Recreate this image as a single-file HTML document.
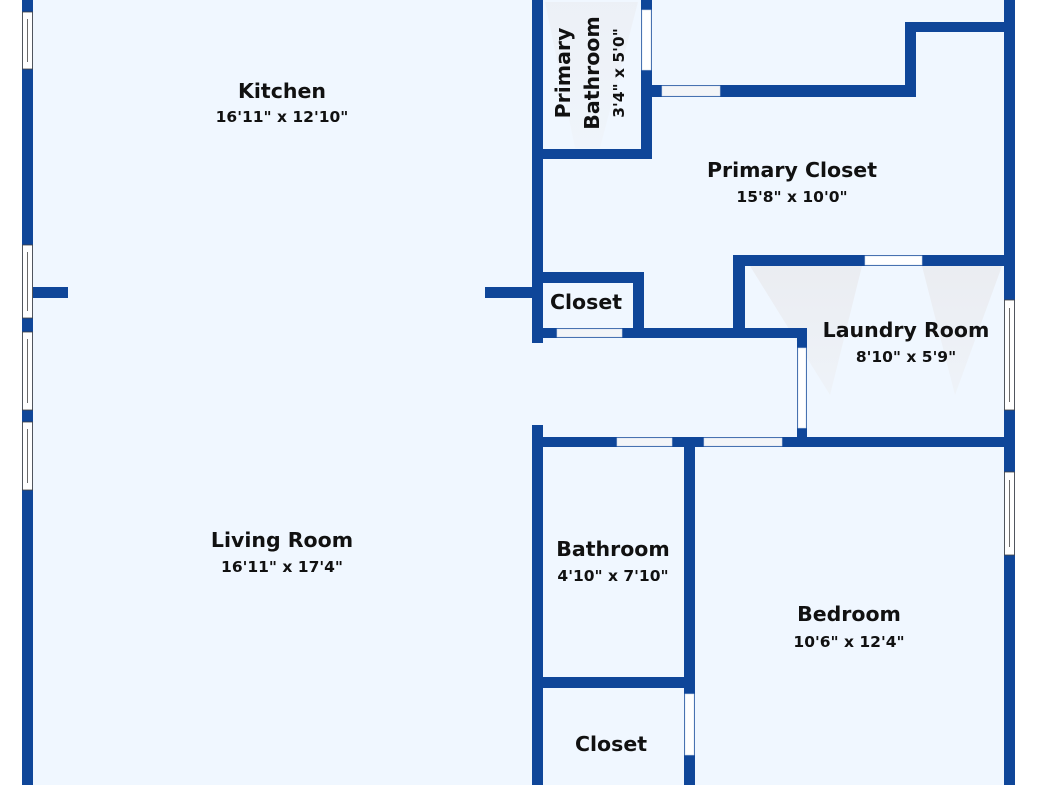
<!DOCTYPE html>
<html><head><style>
html,body{margin:0;padding:0;background:#fff;}
svg{display:block}
text{font-family:"DejaVu Sans","Liberation Sans",sans-serif;font-weight:bold;fill:#111;text-anchor:middle}
.n{font-size:20.5px}
.d{font-size:15.5px}
</style></head><body>
<svg width="1037" height="785" viewBox="0 0 1037 785" xmlns="http://www.w3.org/2000/svg">
<defs>
<linearGradient id="g" x1="0" y1="0" x2="0" y2="1"><stop offset="0" stop-color="#e9eaee"/><stop offset="1" stop-color="#eef2f7"/></linearGradient>
</defs>
<rect x="22" y="0" width="993" height="785" fill="#f0f7ff"/>
<polygon points="750,266 862,266 830,395" fill="url(#g)" opacity="0.8"/>
<polygon points="922,266 1002,266 955,395" fill="url(#g)" opacity="0.8"/>
<polygon points="545,2 638,2 600,148 575,148" fill="url(#g)" opacity="0.5"/>
<g fill="#0f4699">
<rect x="22" y="0" width="11" height="785"/>
<rect x="22" y="287" width="46" height="11"/>
<rect x="485" y="287" width="50" height="11"/>
<rect x="532" y="0" width="11" height="343"/>
<rect x="641" y="0" width="11" height="159"/>
<rect x="532" y="149" width="120" height="10"/>
<rect x="652" y="85" width="264" height="12"/>
<rect x="905" y="22" width="11" height="75"/>
<rect x="905" y="22" width="105" height="10"/>
<rect x="1004" y="0" width="11" height="785"/>
<rect x="733" y="255" width="272" height="11"/>
<rect x="733" y="255" width="12" height="82"/>
<rect x="532" y="272" width="112" height="11"/>
<rect x="633" y="272" width="11" height="66"/>
<rect x="532" y="328" width="275" height="10"/>
<rect x="797" y="328" width="10" height="119"/>
<rect x="532" y="437" width="483" height="10"/>
<rect x="532" y="425" width="11" height="360"/>
<rect x="684" y="442" width="11" height="343"/>
<rect x="532" y="677" width="163" height="11"/>
</g>
<g fill="#f3f5f8" stroke="#cdd9ea" stroke-width="0.6">
<rect x="642" y="10" width="9" height="60" fill="#fff"/>
<rect x="662" y="86" width="58" height="10"/>
<rect x="865" y="256" width="57" height="9" fill="#fff"/>
<rect x="557" y="329" width="65" height="8"/>
<rect x="798" y="348" width="8" height="80" fill="#fff"/>
<rect x="617" y="438" width="55" height="8"/>
<rect x="704" y="438" width="78" height="8"/>
<rect x="685" y="694" width="9" height="61" fill="#fff"/>
</g>
<g fill="#fff" stroke="#444" stroke-width="0.8">
<rect x="22.5" y="12" width="10" height="57"/><line x1="27.5" y1="19" x2="27.5" y2="62"/>
<rect x="22.5" y="245" width="10" height="73"/><line x1="27.5" y1="252" x2="27.5" y2="311"/>
<rect x="22.5" y="332" width="10" height="78"/><line x1="27.5" y1="339" x2="27.5" y2="403"/>
<rect x="22.5" y="422" width="10" height="68"/><line x1="27.5" y1="429" x2="27.5" y2="483"/>
<rect x="1004.5" y="300" width="10" height="110"/><line x1="1009.5" y1="308" x2="1009.5" y2="402"/>
<rect x="1004.5" y="472" width="10" height="83"/><line x1="1009.5" y1="480" x2="1009.5" y2="547"/>
</g>
<text class="n" x="282" y="98">Kitchen</text>
<text class="d" x="282" y="122">16'11" x 12'10"</text>
<text class="n" x="282" y="547">Living Room</text>
<text class="d" x="282" y="572">16'11" x 17'4"</text>
<text class="n" x="792" y="177">Primary Closet</text>
<text class="d" x="792" y="202">15'8" x 10'0"</text>
<text class="n" x="586" y="309">Closet</text>
<text class="n" x="906" y="337">Laundry Room</text>
<text class="d" x="906" y="362">8'10" x 5'9"</text>
<text class="n" x="613" y="556">Bathroom</text>
<text class="d" x="613" y="581">4'10" x 7'10"</text>
<text class="n" x="849" y="621">Bedroom</text>
<text class="d" x="849" y="647">10'6" x 12'4"</text>
<text class="n" x="611" y="751">Closet</text>
<g transform="translate(570,73) rotate(-90)"><text class="n" x="0" y="0">Primary</text></g>
<g transform="translate(599,73) rotate(-90)"><text class="n" x="0" y="0">Bathroom</text></g>
<g transform="translate(624,73) rotate(-90)"><text class="d" x="0" y="0">3'4" x 5'0"</text></g>
</svg>
</body></html>
